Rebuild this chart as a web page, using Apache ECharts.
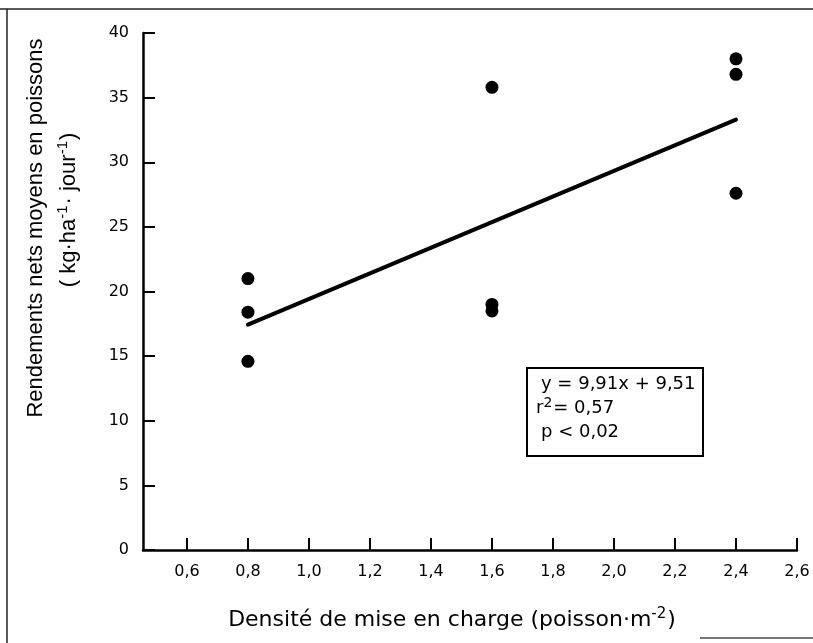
<!DOCTYPE html>
<html>
<head>
<meta charset="utf-8">
<script src="https://cdn.jsdelivr.net/npm/echarts@6/dist/echarts.min.js"></script>
<style>
  html, body { margin: 0; padding: 0; background: #ffffff; }
  #chart { width: 813px; height: 643px; }
</style>
</head>
<body>
<div id="chart"></div>
<script>
// Stocking density (fish per m²) and mean net fish yield (kg/ha/day)
const densityTicks = [0.6, 0.8, 1.0, 1.2, 1.4, 1.6, 1.8, 2.0, 2.2, 2.4, 2.6];
const yieldTicks = [0, 5, 10, 15, 20, 25, 30, 35, 40];
const densities = [0.8, 0.8, 0.8, 1.6, 1.6, 1.6, 2.4, 2.4, 2.4];
const yields = [21.0, 18.4, 14.6, 35.8, 19.0, 18.5, 38.0, 36.8, 27.6];

// Least-squares fit reported in the inset box
const slope = 9.91;
const intercept = 9.51;
const r2 = 0.57;
const pText = '0,02';
const fitRange = [0.8, 2.4];

const comma = (v, d) => v.toFixed(d).replace('.', ',');

const chart = echarts.init(document.getElementById('chart'), null, { renderer: 'canvas' });

const FONT = 'DejaVu Sans';
const SANS = 'Liberation Sans';
const INK = '#000000';

const supStyle = (font, size, lift) => ({
  fontSize: size, fontFamily: font, fill: INK, verticalAlign: 'top', padding: [0, 1, lift, 0]
});

const option = {
  backgroundColor: '#ffffff',
  animation: false,
  grid: { left: 143, right: 16, top: 33, bottom: 93 },
  xAxis: {
    type: 'value',
    min: 0.456,
    max: 2.6,
    axisLine: { show: true, lineStyle: { color: INK, width: 2.5 } },
    axisTick: {
      show: true, inside: true, length: 12,
      customValues: densityTicks,
      lineStyle: { color: INK, width: 2 }
    },
    axisLabel: {
      customValues: densityTicks,
      formatter: v => comma(v, 1),
      color: INK, fontFamily: FONT, fontSize: 16, margin: 14
    },
    splitLine: { show: false }
  },
  yAxis: {
    type: 'value',
    min: 0,
    max: 40,
    interval: 5,
    axisLine: { show: true, lineStyle: { color: INK, width: 2.5 } },
    axisTick: { show: true, inside: true, length: 12, lineStyle: { color: INK, width: 2 } },
    axisLabel: {
      formatter: v => String(v),
      color: INK, fontFamily: FONT, fontSize: 16, margin: 14
    },
    splitLine: { show: false }
  },
  series: [
    {
      type: 'scatter',
      symbol: 'circle',
      symbolSize: 13,
      itemStyle: { color: INK, opacity: 1 },
      data: densities.map((d, i) => [d, yields[i]]),
      z: 3
    },
    {
      type: 'line',
      showSymbol: false,
      symbol: 'none',
      lineStyle: { color: INK, width: 4, cap: 'round' },
      data: fitRange.map(x => [x, slope * x + intercept]),
      z: 2
    }
  ],
  graphic: [
    // page frame
    { type: 'line', shape: { x1: 0, y1: 9, x2: 813, y2: 9 }, style: { stroke: '#222', lineWidth: 1.5 } },
    { type: 'line', shape: { x1: 7, y1: 9, x2: 7, y2: 643 }, style: { stroke: '#222', lineWidth: 1.5 } },
    { type: 'line', shape: { x1: 700, y1: 638, x2: 813, y2: 638 }, style: { stroke: '#777', lineWidth: 2 } },
    // x-axis title
    {
      type: 'text', x: 452, y: 620,
      style: {
        text: 'Densité de mise en charge (poisson·m{sup|-2})',
        align: 'center', verticalAlign: 'middle',
        fontFamily: FONT, fontSize: 22, fill: INK,
        rich: { sup: supStyle(FONT, 15, 12) }
      }
    },
    // y-axis title, two lines
    {
      type: 'text', x: 36, y: 228, rotation: Math.PI / 2,
      style: {
        text: 'Rendements nets moyens en poissons',
        align: 'center', verticalAlign: 'middle',
        fontFamily: SANS, fontSize: 22, fill: INK
      }
    },
    {
      type: 'text', x: 69, y: 210, rotation: Math.PI / 2,
      style: {
        text: '( kg·ha{sup|-1}· jour{sup|-1})',
        align: 'center', verticalAlign: 'middle',
        fontFamily: SANS, fontSize: 22, fill: INK,
        rich: { sup: supStyle(SANS, 15, 12) }
      }
    },
    // regression inset
    {
      type: 'rect',
      shape: { x: 527, y: 368, width: 176, height: 88 },
      style: { fill: '#ffffff', stroke: INK, lineWidth: 2 }
    },
    {
      type: 'text', x: 541, y: 384,
      style: {
        text: 'y = ' + comma(slope, 2) + 'x + ' + comma(intercept, 2),
        align: 'left', verticalAlign: 'middle', fontFamily: FONT, fontSize: 18, fill: INK
      }
    },
    {
      type: 'text', x: 536, y: 408,
      style: {
        text: 'r{sup|2}= ' + comma(r2, 2),
        align: 'left', verticalAlign: 'middle', fontFamily: FONT, fontSize: 18, fill: INK,
        rich: { sup: supStyle(FONT, 14, 10) }
      }
    },
    {
      type: 'text', x: 541, y: 432,
      style: {
        text: 'p < ' + pText,
        align: 'left', verticalAlign: 'middle', fontFamily: FONT, fontSize: 18, fill: INK
      }
    }
  ]
};

chart.setOption(option);
</script>
</body>
</html>
